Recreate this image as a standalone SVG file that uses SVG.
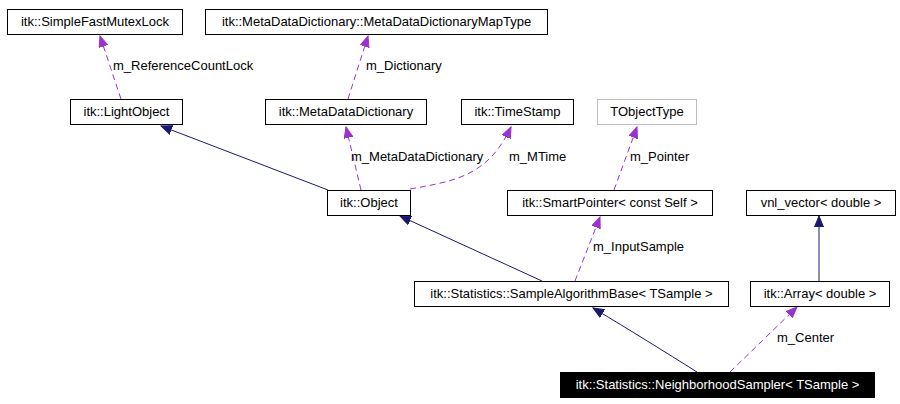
<svg xmlns="http://www.w3.org/2000/svg" width="900" height="404" viewBox="0 0 900 404">
<style>
.n rect{fill:#fff;stroke:#000;stroke-width:1}
.n text{font-family:"Liberation Sans",Arial,sans-serif;font-size:13px;fill:#000;text-anchor:middle}
.g rect{stroke:#bfbfbf}
.hl rect{fill:#000}
.hl text{fill:#fff}
.inh{fill:none;stroke:#191970;stroke-width:1}
.use{fill:none;stroke:#9a32cd;stroke-width:1;stroke-dasharray:6,4}
.lbl{font-family:"Liberation Sans",Arial,sans-serif;font-size:13px;fill:#000}
</style>
<defs>
<marker id="ai" markerUnits="userSpaceOnUse" markerWidth="12" markerHeight="10" refX="11" refY="5" orient="auto" viewBox="0 0 12 10"><path d="M0,0.5 L11,5 L0,9.5 z" fill="#191970" stroke="#191970"/></marker>
<marker id="au" markerUnits="userSpaceOnUse" markerWidth="12" markerHeight="10" refX="11" refY="5" orient="auto" viewBox="0 0 12 10"><path d="M0,0.5 L11,5 L0,9.5 z" fill="#9a32cd" stroke="#9a32cd"/></marker>
</defs>
<rect width="900" height="404" fill="#fff"/>
<g id="edges">
<path class="use" d="M121,99 L100,36" marker-end="url(#au)"/>
<path class="use" d="M348,99 L368,36" marker-end="url(#au)"/>
<path class="use" d="M361,190 L346,127" marker-end="url(#au)"/>
<path class="use" d="M410,189 C455,181 488,176 511,127" marker-end="url(#au)"/>
<path class="use" d="M614,190 L637,127" marker-end="url(#au)"/>
<path class="inh" d="M328,190 L161,126" marker-end="url(#ai)"/>
<path class="inh" d="M542,281 L400,216" marker-end="url(#ai)"/>
<path class="use" d="M575,281 L600,217" marker-end="url(#au)"/>
<path class="inh" d="M697,372 C665,352 630,330 593,308" marker-end="url(#ai)"/>
<path class="use" d="M730,372 L797,307" marker-end="url(#au)"/>
<path class="inh" d="M819,281 L819,216" marker-end="url(#ai)"/>
<text class="lbl" x="113" y="70">m_ReferenceCountLock</text>
<text class="lbl" x="366" y="70">m_Dictionary</text>
<text class="lbl" x="351" y="161">m_MetaDataDictionary</text>
<text class="lbl" x="509" y="161">m_MTime</text>
<text class="lbl" x="630" y="161">m_Pointer</text>
<text class="lbl" x="593" y="251">m_InputSample</text>
<text class="lbl" x="777" y="342">m_Center</text>
</g>
<g id="SimpleFastMutexLock" class="n"><rect x="7.5" y="9.5" width="175" height="25"/><text x="95" y="26">itk::SimpleFastMutexLock</text></g>
<g id="MetaDataDictionaryMapType" class="n"><rect x="205.5" y="9.5" width="342" height="25"/><text x="376.5" y="26">itk::MetaDataDictionary::MetaDataDictionaryMapType</text></g>
<g id="LightObject" class="n"><rect x="70.5" y="99.5" width="112" height="25"/><text x="126.5" y="116">itk::LightObject</text></g>
<g id="MetaDataDictionary" class="n"><rect x="265.5" y="99.5" width="161" height="25"/><text x="346" y="116">itk::MetaDataDictionary</text></g>
<g id="TimeStamp" class="n"><rect x="461.5" y="99.5" width="112" height="25"/><text x="517.5" y="116">itk::TimeStamp</text></g>
<g id="TObjectType" class="n g"><rect x="597.5" y="99.5" width="99" height="25"/><text x="647" y="116">TObjectType</text></g>
<g id="Object" class="n"><rect x="327.5" y="190.5" width="83" height="25"/><text x="369" y="207">itk::Object</text></g>
<g id="SmartPointer" class="n"><rect x="507.5" y="190.5" width="205" height="25"/><text x="610" y="207">itk::SmartPointer&lt; const Self &gt;</text></g>
<g id="vnl_vector" class="n"><rect x="746.5" y="190.5" width="149" height="25"/><text x="821" y="207">vnl_vector&lt; double &gt;</text></g>
<g id="SampleAlgorithmBase" class="n"><rect x="414.5" y="281.5" width="314" height="25"/><text x="571.5" y="298">itk::Statistics::SampleAlgorithmBase&lt; TSample &gt;</text></g>
<g id="Array" class="n"><rect x="750.5" y="281.5" width="139" height="25"/><text x="820" y="298">itk::Array&lt; double &gt;</text></g>
<g id="NeighborhoodSampler" class="n hl"><rect x="560.5" y="372.5" width="314" height="25"/><text x="717.5" y="389">itk::Statistics::NeighborhoodSampler&lt; TSample &gt;</text></g>
</svg>
